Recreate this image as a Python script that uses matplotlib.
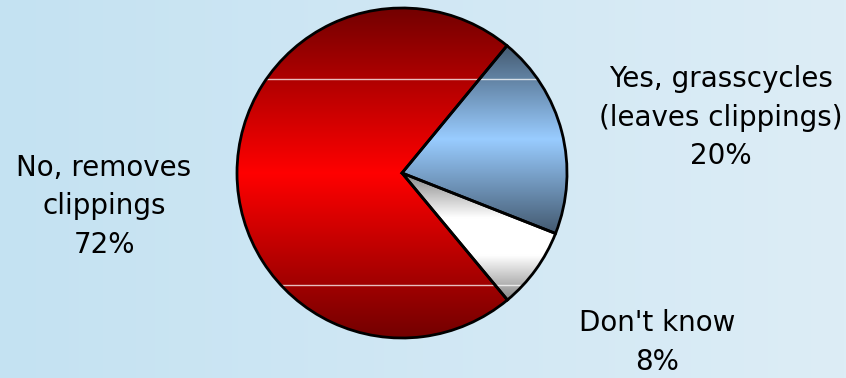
import numpy as np
import matplotlib
matplotlib.use("Agg")
import matplotlib.pyplot as plt
from matplotlib.patches import Circle
from matplotlib.colors import to_rgb

# Survey answers: does the household grasscycle?
labels = ["Yes, grasscycles\n(leaves clippings)", "Don't know", "No, removes\nclippings"]
values = [20, 8, 72]
base_colors = ["#99CCFF", "#FFFFFF", "#FF0000"]

# label anchor: (centre x, first baseline y) in pixel units from the top
label_pos = [(721, 87), (657, 331), (104, 176)]
line_gap = 38.5

W, H = 846, 378
fig = plt.figure(figsize=(W / 100, H / 100), dpi=100)

# light blue background, slightly darker on the left
bg = fig.add_axes([0, 0, 1, 1])
left = np.array(to_rgb("#C4E2F2"))
right = np.array(to_rgb("#DDEDF6"))
t = np.linspace(0, 1, 256)[None, :, None]
bg.imshow(left + (right - left) * t, aspect="auto", extent=(0, 1, 0, 1))
bg.set_axis_off()

ax = fig.add_axes([0, 0, 1, 1])
ax.patch.set_visible(False)

cx, cy, R = 402, H - 173, 165
wedges, _ = ax.pie(values, startangle=50.5, counterclock=False,
                   center=(cx, cy), radius=R, colors=base_colors,
                   wedgeprops=dict(edgecolor="black", linewidth=2.0))
ax.set_xlim(0, W)
ax.set_ylim(0, H)
ax.set_aspect("auto")
ax.set_axis_off()


def shade(u):
    return 1.0 - 0.56 * np.abs(u) ** 1.0


# vertical shading: brightest across the middle of each slice
for w, c in zip(wedges, base_colors):
    v = w.get_path().vertices
    x0, x1 = v[:, 0].min(), v[:, 0].max()
    y0, y1 = v[:, 1].min(), v[:, 1].max()
    ys = np.linspace(-1, 1, 400)
    boost = 1.2 if c.upper() == "#FFFFFF" else 1.0
    s = np.clip(shade(ys) * boost, 0, 1)
    img = np.array(to_rgb(c))[None, None, :] * s[:, None, None]
    im = ax.imshow(img, extent=(x0, x1, y0, y1), origin="lower",
                   aspect="auto", interpolation="bilinear", zorder=1)
    im.set_clip_path(w)
    w.set_facecolor("none")
    w.set_zorder(3)

# faint highlight bands across the disc
disc = Circle((cx, cy), R, transform=ax.transData)
for yy in (H - 79, H - 285):
    ln, = ax.plot([cx - R, cx + R], [yy, yy], color="white", lw=1.0,
                  alpha=0.75, zorder=2)
    ln.set_clip_path(disc)

ax.set_xlim(0, W)
ax.set_ylim(0, H)

for lab, v, (lx, ly) in zip(labels, values, label_pos):
    lines = lab.split("\n") + [f"{v}%"]
    for i, line in enumerate(lines):
        ax.text(lx, H - (ly + i * line_gap), line, ha="center", va="baseline",
                fontsize=20, family="DejaVu Sans", color="black", zorder=5)

fig.savefig("out.png", dpi=100)
